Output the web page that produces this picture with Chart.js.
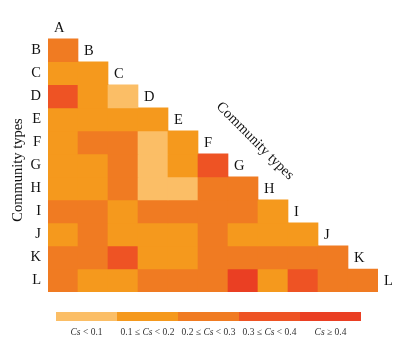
<!DOCTYPE html>
<html>
<head>
<meta charset="utf-8">
<script src="https://cdn.jsdelivr.net/npm/chart.js@4.4.1/dist/chart.umd.min.js"></script>
<style>
  html, body { margin: 0; padding: 0; background: #fff; }
  #wrap { width: 405px; height: 342px; position: relative; }
</style>
</head>
<body>
<div id="wrap"><canvas id="heatChart"></canvas></div>
<script>
// Community types (rows A..L, columns A..K)
const types = ['A', 'B', 'C', 'D', 'E', 'F', 'G', 'H', 'I', 'J', 'K', 'L'];
const columns = ['A', 'B', 'C', 'D', 'E', 'F', 'G', 'H', 'I', 'J', 'K'];

// Cs class of each cell (1: <0.1, 2: 0.1-0.2, 3: 0.2-0.3, 4: 0.3-0.4, 5: >=0.4)
const rowB = [3];
const rowC = [2, 2];
const rowD = [4, 2, 1];
const rowE = [2, 2, 2, 2];
const rowF = [2, 3, 3, 1, 2];
const rowG = [2, 2, 3, 1, 2, 4];
const rowH = [2, 2, 3, 1, 1, 3, 3];
const rowI = [3, 3, 2, 3, 3, 3, 3, 2];
const rowJ = [2, 3, 2, 2, 2, 3, 2, 2, 2];
const rowK = [3, 3, 4, 2, 2, 3, 3, 3, 3, 3];
const rowL = [3, 2, 2, 3, 3, 3, 5, 2, 4, 3, 3];
const rows = [rowB, rowC, rowD, rowE, rowF, rowG, rowH, rowI, rowJ, rowK, rowL];

// Legend classes
const classColors = ['#FBBE66', '#F5991D', '#F07B22', '#EE5324', '#EA3F23'];
const classLabels = [
  [['Cs', true], [' < 0.1', false]],
  [['0.1 \u2264 ', false], ['Cs', true], [' < 0.2', false]],
  [['0.2 \u2264 ', false], ['Cs', true], [' < 0.3', false]],
  [['0.3 \u2264 ', false], ['Cs', true], [' < 0.4', false]],
  [['Cs', true], [' \u2265 0.4', false]]
];

const SERIF = '"Liberation Serif", "DejaVu Serif", serif';

// one floating-bar dataset per row, each cell spans [row, row + 1]
const datasets = rows.map((levels, i) => ({
  label: types[i + 1],
  data: columns.map((c, j) => (j < levels.length ? [i + 1, i + 2] : null)),
  backgroundColor: columns.map((c, j) => (j < levels.length ? classColors[levels[j] - 1] : 'rgba(0,0,0,0)')),
  borderWidth: 0,
  grouped: false,
  barPercentage: 1,
  categoryPercentage: 1
}));

function drawRich(ctx, parts, cx, cy, size) {
  // measure then draw centred, italic for "Cs"
  let total = 0;
  const widths = parts.map(([t, it]) => {
    ctx.font = (it ? 'italic ' : '') + size + 'px ' + SERIF;
    const w = ctx.measureText(t).width;
    total += w;
    return w;
  });
  let x = cx - total / 2;
  parts.forEach(([t, it], k) => {
    ctx.font = (it ? 'italic ' : '') + size + 'px ' + SERIF;
    ctx.fillText(t, x, cy);
    x += widths[k];
  });
}

const labelsPlugin = {
  id: 'heatLabels',
  afterDatasetsDraw(chart) {
    const ctx = chart.ctx;
    const xs = chart.scales.x;
    const ys = chart.scales.y;
    const colW = xs.getPixelForValue(1) - xs.getPixelForValue(0);
    ctx.save();
    ctx.fillStyle = '#111';
    ctx.textBaseline = 'middle';
    ctx.textAlign = 'left';
    ctx.font = '14.5px ' + SERIF;
    // diagonal labels
    types.forEach((t, i) => {
      const left = xs.getPixelForValue(0) - colW / 2 + i * colW;
      const y = (ys.getPixelForValue(i) + ys.getPixelForValue(i + 1)) / 2;
      ctx.fillText(t, left + 6, y + 1);
    });
    // left title
    ctx.save();
    ctx.translate(18, 170);
    ctx.rotate(-Math.PI / 2);
    ctx.textAlign = 'center';
    ctx.fillText('Community types', 0, 0);
    ctx.restore();
    // diagonal title
    ctx.save();
    ctx.translate(255, 141);
    ctx.rotate(Math.PI / 4);
    ctx.textAlign = 'center';
    ctx.fillText('Community types', 0, 0);
    ctx.restore();

    // colour bar legend
    const barLeft = 56, barTop = 312, barH = 9, segW = 61;
    classColors.forEach((c, k) => {
      ctx.fillStyle = c;
      ctx.fillRect(barLeft + k * segW, barTop, segW, barH);
    });
    ctx.fillStyle = '#333';
    ctx.textAlign = 'left';
    classLabels.forEach((parts, k) => {
      drawRich(ctx, parts, barLeft + k * segW + segW / 2, 332, 9.5);
    });
    ctx.restore();
  }
};

new Chart(document.getElementById('heatChart'), {
  type: 'bar',
  data: { labels: columns, datasets: datasets },
  options: {
    responsive: true,
    maintainAspectRatio: false,
    animation: false,
    layout: { padding: { top: 4, right: 27, bottom: 50, left: 0 } },
    plugins: { legend: { display: false }, tooltip: { enabled: false } },
    scales: {
      x: { display: false, offset: true },
      y: {
        min: 0,
        max: 12,
        reverse: true,
        grid: { display: false, drawTicks: false },
        border: { display: false },
        afterFit: (s) => { s.width = 48; },
        afterBuildTicks: (s) => { s.ticks = types.slice(1).map((t, i) => ({ value: i + 1.5 })); },
        ticks: {
          padding: 7,
          color: '#111',
          font: { family: SERIF, size: 14.5 },
          callback: (v) => types[Math.floor(v)]
        }
      }
    }
  },
  plugins: [labelsPlugin]
});
</script>
</body>
</html>
